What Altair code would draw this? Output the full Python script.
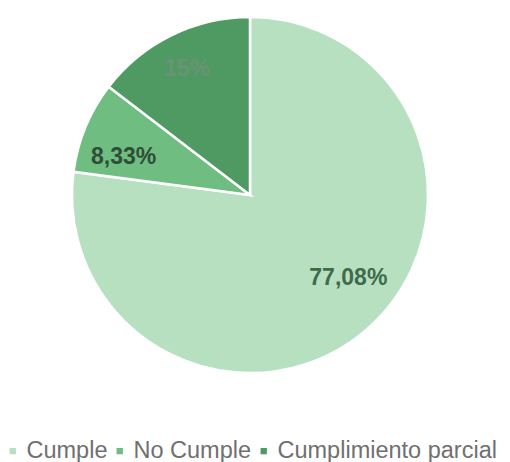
import altair as alt
import pandas as pd

categories = ["Cumple", "No Cumple", "Cumplimiento parcial"]
values = [77.08, 8.33, 14.59]
labels = ["77,08%", "8,33%", "15%"]
order = [0, 1, 2]
colors = ["#b6e0c0", "#6fbd80", "#4f9a63"]

df = pd.DataFrame({"cat": categories, "val": values, "label": labels, "ord": order})

base = alt.Chart(df).transform_window(
    end="sum(val)", sort=[alt.SortField("ord")], frame=[None, 0]
).transform_calculate(
    start="datum.end - datum.val", mid="datum.end - datum.val / 2"
)

theta_scale = alt.Scale(domain=[0, 100])

pie = base.mark_arc(outerRadius=178, stroke="white", strokeWidth=2.5).encode(
    theta=alt.Theta("start:Q", scale=theta_scale),
    theta2="end:Q",
    x=alt.value(242),
    y=alt.value(187),
    color=alt.Color(
        "cat:N",
        scale=alt.Scale(domain=categories, range=colors),
        legend=alt.Legend(
            title=None, orient="none", legendX=-7, legendY=431,
            direction="horizontal", symbolType="square", symbolSize=40,
            symbolStrokeWidth=0, labelFontSize=23.5, labelFont="Liberation Sans",
            labelColor="#707070", labelOffset=2, columnPadding=0, padding=0,
            labelLimit=400,
        ),
    ),
)

def label_layer(cat, dx, dy, color):
    return base.transform_filter(alt.datum.cat == cat).mark_text(
        radius=140, dx=dx, dy=dy, font="Liberation Sans", fontSize=23,
        fontWeight="bold", color=color, baseline="middle", align="center",
    ).encode(
        theta=alt.Theta("mid:Q", scale=theta_scale),
        x=alt.value(242),
        y=alt.value(187),
        text="label:N",
    )

chart = alt.layer(
    pie,
    label_layer("Cumple", 6, -22, "#3e6b4a"),
    label_layer("No Cumple", 3, 16, "#2f4d38"),
    label_layer("Cumplimiento parcial", -1, 0, "#6a9274"),
).properties(
    width=494, height=454, autosize=alt.AutoSizeParams(type="none"), padding=0
).configure_view(stroke=None)

chart.save("out.html", embed_options={"renderer": "svg", "actions": False})
